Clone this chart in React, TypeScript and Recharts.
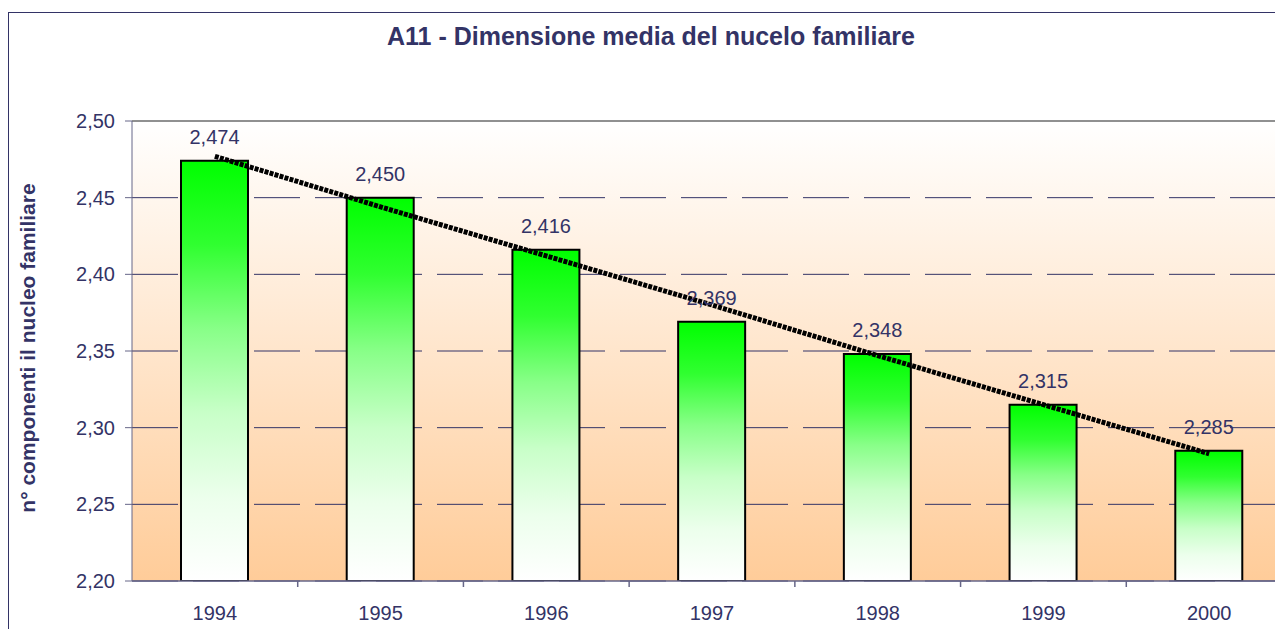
import React from 'react';
import {
    ComposedChart,
    Bar,
    Line,
    XAxis,
    YAxis,
    CartesianGrid,
    LabelList,
    ReferenceLine,
} from 'recharts';

const YEARS = ['1994', '1995', '1996', '1997', '1998', '1999', '2000'];
const HOUSEHOLD_SIZE = [2.474, 2.45, 2.416, 2.369, 2.348, 2.315, 2.285];
// linear trend as drawn on the picture
const TREND = [2.477, 2.444, 2.412, 2.38, 2.347, 2.315, 2.283];
const Y_TICKS = [2.2, 2.25, 2.3, 2.35, 2.4, 2.45, 2.5];

const NAVY = '#333366';
const AXIS = '#666688';
const FONT = '"Liberation Sans", Arial, sans-serif';

const CHART_W = 1284;
const CHART_H = 640;
const Y_AXIS_W = 124;
const BAND = (CHART_W - Y_AXIS_W) / YEARS.length;
const X_TICK_GAP = 25;

const data = YEARS.map((year, i) => ({
    year,
    value: HOUSEHOLD_SIZE[i],
    trend: TREND[i],
}));

// year label plus a tick mark on the right edge of its band
function YearTick(props: any) {
    const { x, y, payload } = props;
    const axisY = y - X_TICK_GAP;
    return (
        <g>
            <line
                x1={x + BAND / 2}
                x2={x + BAND / 2}
                y1={axisY}
                y2={axisY + 6}
                stroke={AXIS}
                strokeWidth={1.5}
            />
            <text
                x={x}
                y={y}
                dy="0.71em"
                textAnchor="middle"
                fontSize={20}
                fill={NAVY}
                fontFamily={FONT}
            >
                {payload.value}
            </text>
        </g>
    );
}

export default function App() {
    return (
        <div
            style={{
                position: 'relative',
                width: 1275,
                height: 621,
                overflow: 'hidden',
                fontFamily: FONT,
                background: '#fff',
            }}
        >
            <div
                style={{
                    position: 'absolute',
                    left: 0,
                    top: 4,
                    width: 1400,
                    height: 700,
                    border: '1px solid ' + NAVY,
                    boxSizing: 'border-box',
                }}
            />
            <div
                style={{
                    position: 'absolute',
                    left: 0,
                    width: 1286,
                    top: 14,
                    textAlign: 'center',
                    fontSize: 25,
                    fontWeight: 'bold',
                    color: NAVY,
                }}
            >
                A11 - Dimensione media del nucelo familiare
            </div>
            <div
                style={{
                    position: 'absolute',
                    left: 20,
                    top: 340,
                    width: 0,
                    height: 0,
                }}
            >
                <div
                    style={{
                        position: 'absolute',
                        transform: 'translate(-50%, -50%) rotate(-90deg)',
                        whiteSpace: 'nowrap',
                        fontSize: 21,
                        fontWeight: 'bold',
                        color: NAVY,
                    }}
                >
                    n° componenti il nucleo familiare
                </div>
            </div>
            <div style={{ position: 'absolute', left: 0, top: 0 }}>
                <ComposedChart
                    width={CHART_W}
                    height={CHART_H}
                    data={data}
                    margin={{ top: 113, right: 0, bottom: 27, left: 0 }}
                    barCategoryGap={0}
                >
                    <defs>
                        <linearGradient id="plotBg" x1="0" y1="0" x2="0" y2="1">
                            <stop offset="0%" stopColor="#FFFFFF" />
                            <stop offset="100%" stopColor="#FFCC99" />
                        </linearGradient>
                        <linearGradient id="barFill" x1="0" y1="0" x2="0" y2="1">
                            <stop offset="0%" stopColor="#00FF00" />
                            <stop offset="20%" stopColor="#30FF30" />
                            <stop offset="40%" stopColor="#88FF88" />
                            <stop offset="60%" stopColor="#C8FFC8" />
                            <stop offset="80%" stopColor="#ECFFEC" />
                            <stop offset="100%" stopColor="#FFFFFF" />
                        </linearGradient>
                    </defs>
                    <CartesianGrid
                        vertical={false}
                        fill="url(#plotBg)"
                        stroke={NAVY}
                        strokeDasharray="46 15"
                    />
                    <XAxis
                        dataKey="year"
                        height={40}
                        axisLine={{ stroke: AXIS, strokeWidth: 1.5 }}
                        tickLine={false}
                        tickSize={0}
                        tickMargin={X_TICK_GAP}
                        tick={<YearTick />}
                    />
                    <YAxis
                        width={Y_AXIS_W}
                        domain={[2.2, 2.5]}
                        ticks={Y_TICKS}
                        allowDataOverflow
                        tickSize={7}
                        tickMargin={10}
                        stroke={AXIS}
                        tick={{ fontSize: 20, fill: NAVY, fontFamily: FONT }}
                        tickFormatter={(v: number) => v.toFixed(2).replace('.', ',')}
                    />
                    <ReferenceLine y={2.5} stroke="#909090" strokeWidth={2} />
                    <Bar
                        dataKey="value"
                        barSize={67}
                        fill="url(#barFill)"
                        stroke="#000"
                        strokeWidth={2}
                        isAnimationActive={false}
                    >
                        <LabelList
                            dataKey="value"
                            position="top"
                            offset={17}
                            fill={NAVY}
                            fontSize={20}
                            fontFamily={FONT}
                            formatter={(v: number) => v.toFixed(3).replace('.', ',')}
                        />
                    </Bar>
                    <Line
                        dataKey="trend"
                        stroke="#000"
                        strokeWidth={5}
                        strokeDasharray="4 1.2"
                        dot={false}
                        activeDot={false}
                        isAnimationActive={false}
                    />
                </ComposedChart>
            </div>
        </div>
    );
}
